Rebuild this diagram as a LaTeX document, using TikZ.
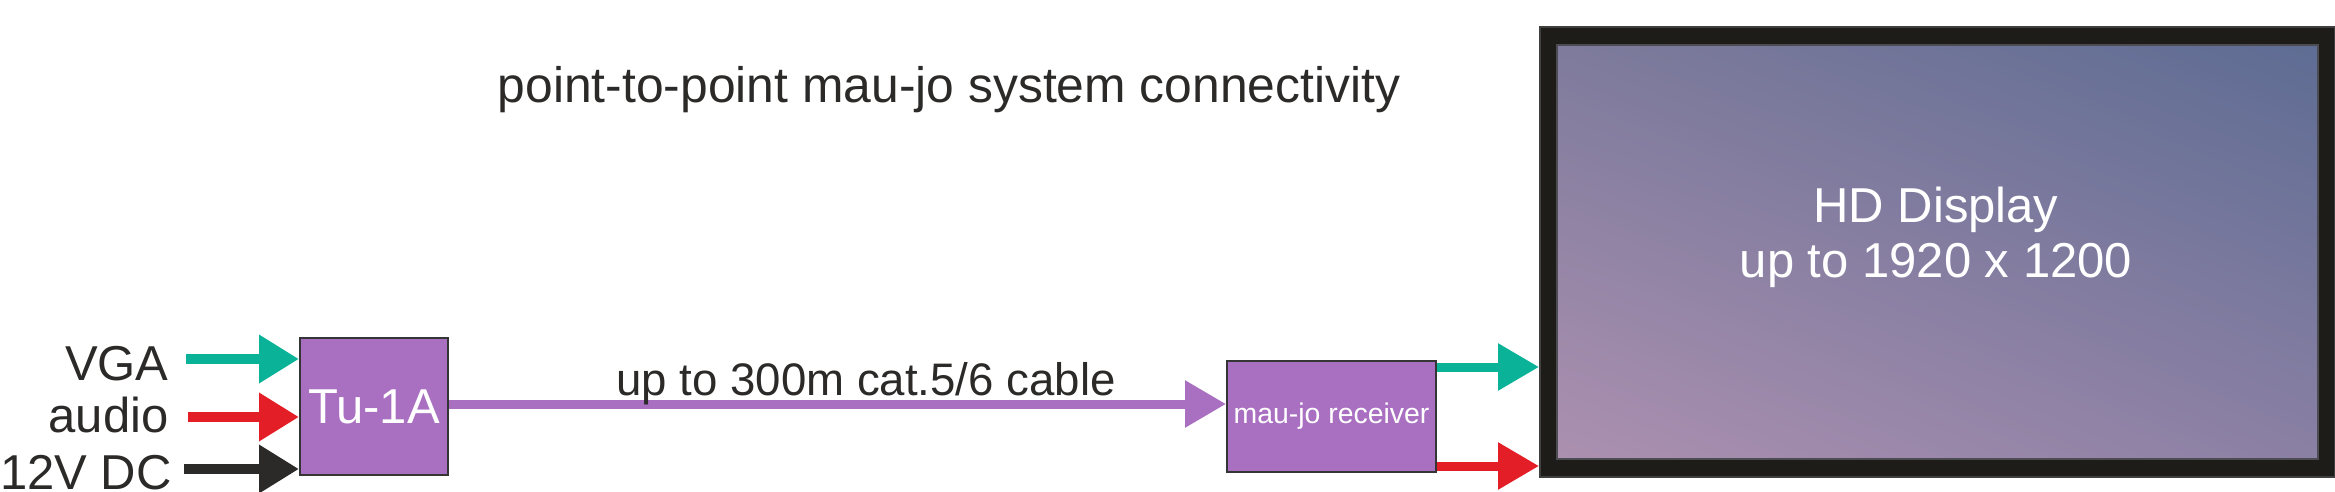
\documentclass[tikz,border=0pt]{standalone}
\usepackage{fontspec}
\setmainfont{Liberation Sans}
\usetikzlibrary{arrows.meta,calc,shadings}
\definecolor{ink}{HTML}{2B2A29}
\definecolor{tealc}{HTML}{0AB298}
\definecolor{redc}{HTML}{E31E26}
\definecolor{blackc}{HTML}{2B2A29}
\definecolor{boxpurple}{HTML}{A970C1}
\definecolor{boxedge}{HTML}{353535}
\definecolor{framec}{HTML}{1D1C18}
\definecolor{frameedge}{HTML}{404040}
\definecolor{scrTL}{HTML}{7E7B9C}
\definecolor{scrTR}{HTML}{5E6C93}
\definecolor{scrBL}{HTML}{AC90B0}
\definecolor{scrBR}{HTML}{8A80A4}
\tikzset{
  txt/.style={inner sep=0pt, text=ink, font=\fontsize{24.5pt}{29pt}\selectfont},
  devbox/.style={draw=boxedge, line width=1pt, fill=boxpurple, inner sep=0pt, text=white},
  inarrow/.style={line width=5pt, -{Triangle[length=20pt,width=23pt]}},
  outarrow/.style={line width=4.5pt, -{Triangle[length=20.5pt,width=22.5pt]}},
  cablearrow/.style={line width=4.5pt, draw=boxpurple, -{Triangle[length=20.5pt,width=22.5pt]}},
}
\begin{document}
\begin{tikzpicture}[x=0.5pt,y=-0.5pt]
\useasboundingbox (0,0) rectangle (2335,492);
% title
\node[txt, anchor=base, font=\fontsize{24.9pt}{29pt}\selectfont] (title) at (949,103) {point-to-point mau-jo system connectivity};
% input labels
\node[txt, anchor=base east] (lvga) at (169,380) {VGA};
\node[txt, anchor=base east] (laudio) at (169,432) {audio};
\node[txt, anchor=base east] (ldc) at (172,489) {12V DC};
% transmitter
\node[devbox, minimum width=74pt, minimum height=68.5pt, font=\fontsize{24.5pt}{29pt}\selectfont] (tu) at (374,406.5) {Tu-1A};
% receiver
\node[devbox, minimum width=104.5pt, minimum height=55.5pt, font=\fontsize{14.2pt}{17pt}\selectfont] (rx) at (1331.5,416.5) {mau-jo receiver};
% display
\node[draw=frameedge, line width=1pt, fill=framec, minimum width=397.5pt, minimum height=225pt, inner sep=0pt] (disp) at (1937.5,252) {};
\node[draw=frameedge!80!scrTL, line width=1pt, shade, upper left=scrTL, upper right=scrTR, lower left=scrBL, lower right=scrBR, minimum width=380.5pt, minimum height=207pt, inner sep=0pt] (scr) at (1937.5,252) {};
\node[txt, text=white, anchor=base] (hd1) at (1936,222) {HD Display};
\node[txt, text=white, anchor=base] (hd2) at (1936,277) {up to 1920 x 1200};
% input arrows
\coordinate (svga) at (186,359);
\coordinate (saudio) at (188,417);
\coordinate (sdc) at (184,469);
\draw[inarrow, tealc] (svga) -- (svga -| tu.west);
\draw[inarrow, redc] (saudio) -- (saudio -| tu.west);
\draw[inarrow, blackc] (sdc) -- (sdc -| tu.west);
% cable
\draw[cablearrow] ([yshift=1.25pt]tu.east) -- ([yshift=1.25pt]tu.east -| rx.west);
\node[txt, anchor=base, font=\fontsize{22.8pt}{27pt}\selectfont] (cablelbl) at (866,395) {up to 300m cat.5/6 cable};
% outputs
\draw[outarrow, tealc] ([yshift=24.75pt]rx.east) -- ([yshift=24.75pt]rx.east -| disp.west);
\draw[outarrow, redc] ([yshift=-24.75pt]rx.east) -- ([yshift=-24.75pt]rx.east -| disp.west);
\end{tikzpicture}
\end{document}
